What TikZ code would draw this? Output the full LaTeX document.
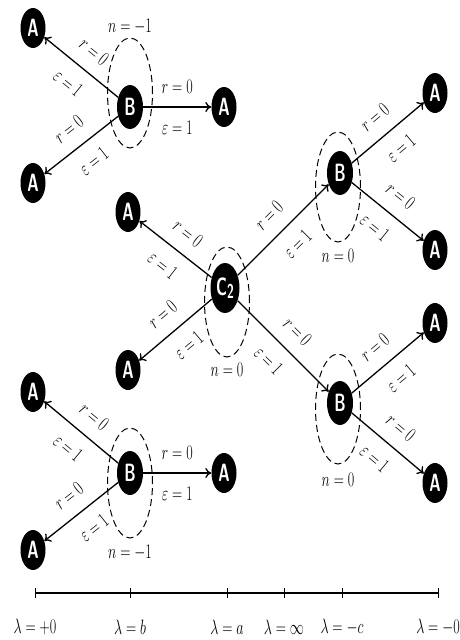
\documentclass[tikz,border=0pt]{standalone}
\usepackage{graphicx}
\usetikzlibrary{arrows.meta,shapes.geometric}
\newcommand{\sq}[1]{\scalebox{0.68}[1]{#1}}
\newcommand{\nq}[1]{\scalebox{0.62}[1]{#1}}
\begin{document}
\begin{tikzpicture}[x=1pt,y=-1pt,
  blob/.style={ellipse, fill=black, text=white, inner sep=0pt, font=\sffamily\bfseries\fontsize{25}{27}\selectfont},
  anode/.style={blob, minimum width=25pt, minimum height=40pt},
  bnode/.style={blob, minimum width=26pt, minimum height=44pt},
  cnode/.style={blob, minimum width=29pt, minimum height=50pt},
  ring/.style={ellipse, draw, dash pattern=on 7pt off 4pt, line width=1pt, minimum width=45pt, minimum height=110pt, inner sep=0pt},
  arr/.style={line width=1.3pt, -{To[length=6pt,width=10pt]}},
  lab/.style={font=\fontsize{20}{22}\selectfont, inner sep=0pt},
  rlab/.style={lab, sloped, above=13pt, midway},
  elab/.style={lab, sloped, below=13pt, midway},
]
\useasboundingbox (0,0) rectangle (460,640);

% dashed rings
\node[ring] (r1) at (130,93) {};
\node[ring] (r2) at (130,483) {};
\node[ring] (r3) at (227,302) {};
\node[ring] (r4) at (338,187) {};
\node[ring] (r5) at (338,409) {};

% ring labels
\node[lab] (n1) at (130,27) {\sq{$n=-1$}};
\node[lab] (n2) at (130,553) {\sq{$n=-1$}};
\node[lab] (n3) at (227,370) {\sq{$n=0$}};
\node[lab] (n4) at (338,256) {\sq{$n=0$}};
\node[lab] (n5) at (338,480) {\sq{$n=0$}};

% top-left group
\node[bnode] (B1) at (130,107) {\nq{B}};
\node[anode] (A11) at (33,28) {\nq{A}};
\node[anode] (A12) at (224,107) {\nq{A}};
\node[anode] (A13) at (33,183) {\nq{A}};

% bottom-left group
\node[bnode] (B2) at (130,473) {\nq{B}};
\node[anode] (A21) at (33,392) {\nq{A}};
\node[anode] (A22) at (224,473) {\nq{A}};
\node[anode] (A23) at (33,550) {\nq{A}};

% central group
\node[cnode] (C) at (225,288) {\nq{C{\fontsize{20}{22}\selectfont\raisebox{-3pt}{2}}}};
\node[anode] (AC1) at (128,212) {\nq{A}};
\node[anode] (AC2) at (128,370) {\nq{A}};
\node[bnode] (B3) at (340,173) {\nq{B}};
\node[bnode] (B4) at (340,403) {\nq{B}};
\node[anode] (A31) at (435,93) {\nq{A}};
\node[anode] (A32) at (435,250) {\nq{A}};
\node[anode] (A41) at (435,323) {\nq{A}};
\node[anode] (A42) at (435,483) {\nq{A}};

% arrows
\foreach \s/\t in {B1/A11,B1/A12,B1/A13,B2/A21,B2/A22,B2/A23,C/AC1,C/AC2,C/B3,C/B4,B3/A31,B3/A32,B4/A41,B4/A42}{
  \draw[arr] (\s) -- (\t) node[rlab] {\sq{$r=0$}} node[elab] {\sq{$\varepsilon=1$}};
}

% axis
\coordinate (t0) at (35,593);
\coordinate (t1) at (130,593);
\coordinate (t2) at (227,593);
\coordinate (t3) at (284,593);
\coordinate (t4) at (342,593);
\coordinate (t5) at (438,593);
\draw[line width=1.4pt] (t0) -- (t5);
\foreach \t in {t0,t1,t2,t3,t4,t5}{
  \draw[line width=0.6pt] (\t) ++(0,-5) -- ++(0,10);
}
\node[lab] (x0) at (35,627) {\sq{$\lambda=+0$}};
\node[lab] (x1) at (130,627) {\sq{$\lambda=b$}};
\node[lab] (x2) at (227,627) {\sq{$\lambda=a$}};
\node[lab] (x3) at (284,627) {\sq{$\lambda=\infty$}};
\node[lab] (x4) at (342,627) {\sq{$\lambda=-c$}};
\node[lab] (x5) at (438,627) {\sq{$\lambda=-0$}};
\end{tikzpicture}
\end{document}
